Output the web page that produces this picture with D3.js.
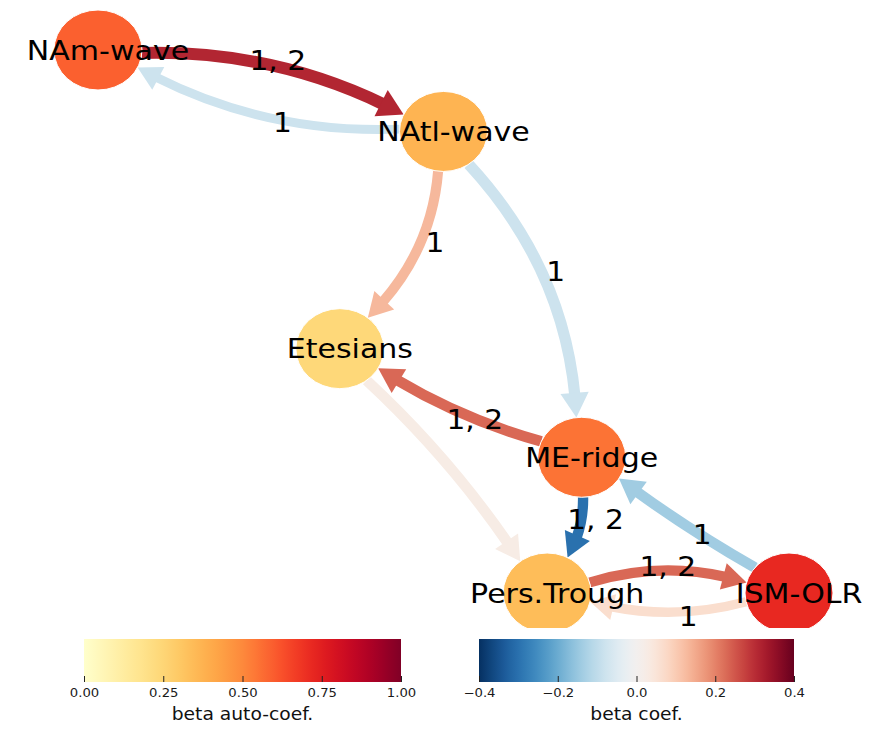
<!DOCTYPE html>
<html>
<head>
<meta charset="utf-8">
<script src="https://cdn.jsdelivr.net/npm/d3@7"></script>
<style>
  body { margin: 0; background: #fff; }
  text { font-family: "DejaVu Sans", Verdana, sans-serif; }
</style>
</head>
<body>
<svg id="chart" width="871" height="736"></svg>
<script>
// ---- graph data -------------------------------------------------------
const nodeNames = ["NAm-wave", "NAtl-wave", "Etesians", "ME-ridge", "Pers.Trough", "ISM-OLR"];
const nodeX     = [0.00, 0.50, 0.35, 0.70, 0.65, 1.00];   // layout coordinates
const nodeY     = [1.00, 0.85, 0.45, 0.25, 0.00, 0.00];
const autoCoef  = [0.59, 0.37, 0.24, 0.55, 0.34, 0.72];   // beta auto-coefficients

const linkSource = [0, 1, 1, 1, 3, 2, 3, 5, 4, 5];
const linkTarget = [1, 0, 2, 3, 2, 4, 4, 3, 5, 4];
const linkLags   = ["1, 2", "1", "1", "1", "1, 2", "", "1, 2", "1", "1, 2", "1"];
const linkBeta   = [0.31, -0.08, 0.13, -0.08, 0.23, 0.025, -0.30, -0.14, 0.23, 0.065];
const linkWeight = [0.86, 0.64, 0.72, 0.80, 0.76, 0.76, 0.74, 0.76, 0.72, 0.68];
const linkCurve  = [0.19, 0.20, 0.26, 0.22, 0.12, 0.08, 0.28, 0.05, 0.26, 0.23];

const autoTicks = [0, 0.25, 0.5, 0.75, 1.0];
const betaTicks = [-0.4, -0.2, 0.0, 0.2, 0.4];

// ---- setup ------------------------------------------------------------
const svg = d3.select("#chart");
const STRETCH = 1.1;          // horizontal stretch of the drawing
const RX = 44, RY = 40;       // node ellipse radii
const LANE = 6;               // edges keep to the right of their direction
const TEXT_SHIFT = 10;        // labels sit slightly right of their anchor

const x = d3.scaleLinear().domain([0, 1]).range([98, 789]);
const y = d3.scaleLinear().domain([0, 1]).range([593, 50]);
const nodeColor = d3.scaleSequential(d3.interpolateYlOrRd).domain([0, 1]);
const linkColor = d3.scaleSequential(d3.interpolateRdBu).domain([0.4, -0.4]);
const linkWidth = d3.scaleLinear().domain([0, 1]).range([0, 14]);

const nodes = nodeNames.map((name, i) => ({
  name, cx: x(nodeX[i]), cy: y(nodeY[i]), coef: autoCoef[i]
}));

const defs = svg.append("defs");
defs.append("clipPath").attr("id", "graphClip")
  .append("rect").attr("x", 0).attr("y", 0).attr("width", 871).attr("height", 628);

const graph = svg.append("g").attr("clip-path", "url(#graphClip)");

// ---- curve helpers (quadratic arcs between node centres) -------------
function bez(p0, c, p1, t) {
  const u = 1 - t;
  return [u * u * p0[0] + 2 * u * t * c[0] + t * t * p1[0],
          u * u * p0[1] + 2 * u * t * c[1] + t * t * p1[1]];
}
function bezTangent(p0, c, p1, t) {
  const u = 1 - t;
  return [2 * u * (c[0] - p0[0]) + 2 * t * (p1[0] - c[0]),
          2 * u * (c[1] - p0[1]) + 2 * t * (p1[1] - c[1])];
}
function inside(p, n) {
  const dx = (p[0] - n.cx) / RX, dy = (p[1] - n.cy) / RY;
  return dx * dx + dy * dy <= 1;
}
function boundaryT(p0, c, p1, n, fromStart) {
  let lo = fromStart ? 0 : 0.5, hi = fromStart ? 0.5 : 1;
  for (let k = 0; k < 40; k++) {
    const m = (lo + hi) / 2;
    const ins = inside(bez(p0, c, p1, m), n);
    if (fromStart) { if (ins) lo = m; else hi = m; }
    else { if (ins) hi = m; else lo = m; }
  }
  return (lo + hi) / 2;
}
function tAtDistance(p0, c, p1, t0, t1, tip, dist) {
  let lo = t0, hi = t1;
  for (let k = 0; k < 40; k++) {
    const m = (lo + hi) / 2, q = bez(p0, c, p1, m);
    if (Math.hypot(q[0] - tip[0], q[1] - tip[1]) > dist) lo = m; else hi = m;
  }
  return (lo + hi) / 2;
}
function subControl(p0, c, p1, t0, t1) {
  const a = (1 - t0) * (1 - t1), b = (1 - t0) * t1 + t0 * (1 - t1), d = t0 * t1;
  return [a * p0[0] + b * c[0] + d * p1[0], a * p0[1] + b * c[1] + d * p1[1]];
}

const links = linkSource.map((s, i) => {
  const A = nodes[s], B = nodes[linkTarget[i]];
  const dx = B.cx - A.cx, dy = B.cy - A.cy;
  const L = Math.hypot(dx, dy);
  const rn = [-dy / L * LANE, dx / L * LANE];        // right-hand lane offset
  const p0 = [A.cx + rn[0], A.cy + rn[1]], p1 = [B.cx + rn[0], B.cy + rn[1]];
  const rad = linkCurve[i];
  // arc bent in unstretched space, then stretched horizontally
  const c = [(p0[0] + p1[0]) / 2 + rad * dy * STRETCH,
             (p0[1] + p1[1]) / 2 - rad * dx / STRETCH];
  const t0 = boundaryT(p0, c, p1, A, true);
  const t1 = boundaryT(p0, c, p1, B, false);
  const w = linkWidth(linkWeight[i]);
  const headLen = 18 + w * 0.6, headW = 16 + w * 1.1;
  const tip = bez(p0, c, p1, t1);
  const base = bez(p0, c, p1, tAtDistance(p0, c, p1, t0, t1, tip, headLen));
  const ts = tAtDistance(p0, c, p1, t0, t1, tip, headLen - 3);
  const tm = (t0 + ts) / 2;                           // middle of the shaft
  const mid = bez(p0, c, p1, tm), tg = bezTangent(p0, c, p1, tm);
  const tl = Math.hypot(tg[0], tg[1]);
  const lab = [mid[0] + 4 * tg[1] / tl, mid[1] - 4 * tg[0] / tl];
  return {
    p0, c, p1, t0, t1, ts, tip, base, w, headW, lab,
    color: linkColor(linkBeta[i]), label: linkLags[i]
  };
});

// ---- edges ------------------------------------------------------------
links.forEach(l => {
  const s = bez(l.p0, l.c, l.p1, l.t0), e = bez(l.p0, l.c, l.p1, l.ts);
  const q = subControl(l.p0, l.c, l.p1, l.t0, l.ts);
  const path = d3.path();
  path.moveTo(s[0], s[1]);
  path.quadraticCurveTo(q[0], q[1], e[0], e[1]);
  graph.append("path").attr("d", path.toString())
    .attr("fill", "none").attr("stroke", l.color)
    .attr("stroke-width", l.w).attr("stroke-linecap", "butt");
  const ux = l.tip[0] - l.base[0], uy = l.tip[1] - l.base[1];
  const len = Math.hypot(ux, uy), nx = -uy / len, ny = ux / len;
  const hw = l.headW / 2;
  graph.append("path")
    .attr("d", `M${l.tip[0]},${l.tip[1]}L${l.base[0] + nx * hw},${l.base[1] + ny * hw}L${l.base[0] - nx * hw},${l.base[1] - ny * hw}Z`)
    .attr("fill", l.color);
});

// ---- nodes ------------------------------------------------------------
graph.selectAll("ellipse.node").data(nodes).join("ellipse")
  .attr("class", "node")
  .attr("cx", d => d.cx).attr("cy", d => d.cy)
  .attr("rx", RX).attr("ry", RY)
  .attr("fill", d => nodeColor(d.coef))
  .attr("stroke", "#fff").attr("stroke-width", 1);

function wideText(parent, px, py, str, size) {
  parent.append("g").attr("transform", `translate(${px + TEXT_SHIFT},${py})`)
    .append("text")
    .attr("transform", `scale(${STRETCH},1)`)
    .attr("text-anchor", "middle")
    .attr("dy", "0.36em")
    .attr("font-size", size)
    .attr("fill", "#000")
    .text(str);
}

nodes.forEach(n => wideText(graph, n.cx, n.cy, n.name, 27.3));
links.forEach(l => { if (l.label) wideText(graph, l.lab[0], l.lab[1], l.label, 27); });

// ---- colour bars ------------------------------------------------------
function colorBar(id, x0, x1, domain, interp, ticks, fmt, title) {
  const top = 639, bottom = 682;
  const grad = defs.append("linearGradient").attr("id", id)
    .attr("x1", "0%").attr("x2", "100%").attr("y1", "0%").attr("y2", "0%");
  d3.range(0, 1.0001, 0.02).forEach(t => {
    grad.append("stop").attr("offset", `${t * 100}%`)
      .attr("stop-color", interp(t));
  });
  svg.append("rect").attr("x", x0).attr("y", top)
    .attr("width", x1 - x0).attr("height", bottom - top)
    .attr("fill", `url(#${id})`);
  const scale = d3.scaleLinear().domain(domain).range([x0, x1]);
  const axis = svg.append("g").attr("transform", `translate(0,${bottom})`)
    .call(d3.axisBottom(scale).tickValues(ticks).tickFormat(d3.format(fmt))
      .tickSizeInner(-6).tickSizeOuter(0).tickPadding(6));
  axis.select(".domain").remove();
  axis.selectAll(".tick line").attr("stroke", "#222");
  axis.selectAll(".tick text")
    .attr("transform", `scale(${STRETCH},1)`)
    .attr("font-family", "DejaVu Sans, sans-serif")
    .attr("font-size", 12).attr("fill", "#1a1a1a");
  svg.append("g").attr("transform", `translate(${(x0 + x1) / 2},${bottom + 38})`)
    .append("text").attr("transform", `scale(${STRETCH},1)`)
    .attr("text-anchor", "middle").attr("font-size", 17).attr("fill", "#111")
    .text(title);
}

colorBar("autoGrad", 84, 401, [0, 1], d3.interpolateYlOrRd, autoTicks, ".2f", "beta auto-coef.");
colorBar("betaGrad", 479, 794, [-0.4, 0.4], t => d3.interpolateRdBu(1 - t), betaTicks, ".1f", "beta coef.");
</script>
</body>
</html>
